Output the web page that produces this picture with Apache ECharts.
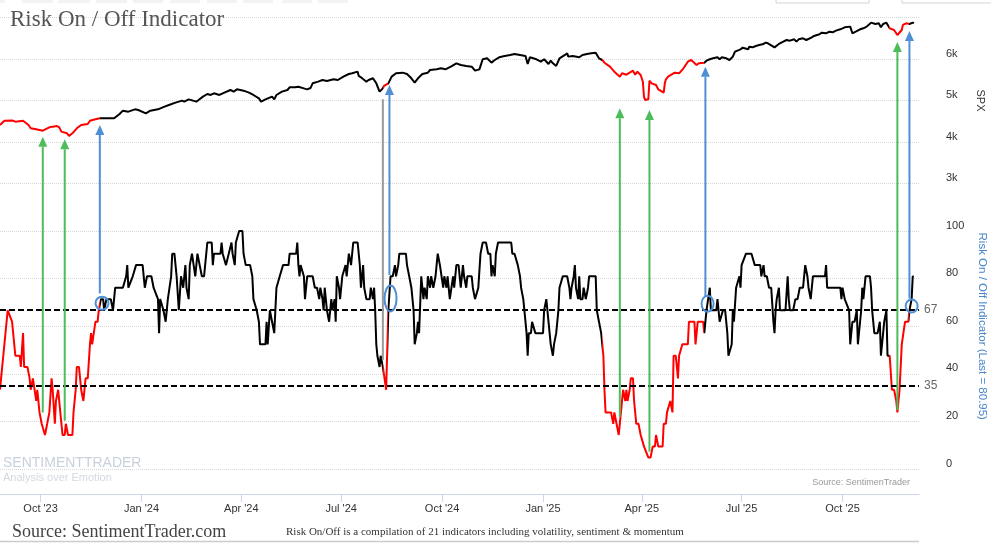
<!DOCTYPE html>
<html><head><meta charset="utf-8">
<script src="https://cdn.jsdelivr.net/npm/echarts@6/dist/echarts.min.js"></script>
<style>html,body{margin:0;padding:0;background:#fff}#c{width:991px;height:543px}</style>
</head><body><div id="c"></div>
<script>
// ---------------- DATA ----------------
const spxPoints = [
['2023-08-25',4410],['2023-08-29',4513],['2023-09-05',4518],['2023-09-08',4490],['2023-09-15',4513],['2023-09-20',4410],['2023-09-22',4330],['2023-09-27',4306],['2023-10-03',4273],['2023-10-09',4353],['2023-10-12',4370],['2023-10-16',4386],['2023-10-18',4353],['2023-10-20',4249],['2023-10-25',4209],['2023-10-27',4145],['2023-10-30',4209],['2023-11-03',4330],['2023-11-07',4410],['2023-11-13',4434],['2023-11-15',4513],['2023-11-20',4546],['2023-11-24',4571],['2023-11-30',4571],['2023-12-07',4571],['2023-12-12',4675],['2023-12-15',4755],['2023-12-20',4731],['2023-12-26',4787],['2023-12-29',4771],
['2024-01-05',4691],['2024-01-09',4755],['2024-01-16',4787],['2024-01-22',4851],['2024-01-26',4892],['2024-02-01',4948],['2024-02-07',4996],['2024-02-09',4972],['2024-02-13',5028],['2024-02-20',4972],['2024-02-22',5012],['2024-02-26',5093],['2024-03-01',5157],['2024-03-04',5133],['2024-03-07',5173],['2024-03-12',5133],['2024-03-15',5173],['2024-03-22',5253],['2024-03-25',5213],['2024-03-28',5269],['2024-04-03',5237],['2024-04-08',5189],['2024-04-12',5133],['2024-04-17',5052],['2024-04-19',4972],['2024-04-23',5028],['2024-04-29',5093],['2024-05-01',5028],['2024-05-03',5133],['2024-05-08',5213],['2024-05-13',5253],['2024-05-15',5318],['2024-05-20',5318],['2024-05-23',5333],['2024-05-28',5293],['2024-05-31',5269],['2024-06-03',5300],['2024-06-05',5414],['2024-06-10',5454],['2024-06-14',5494],['2024-06-18',5470],['2024-06-24',5510],['2024-06-28',5494],['2024-07-03',5575],['2024-07-08',5639],['2024-07-11',5655],['2024-07-16',5695],['2024-07-17',5591],['2024-07-19',5559],['2024-07-24',5454],['2024-07-26',5494],['2024-07-30',5535],['2024-08-02',5414],['2024-08-05',5213],['2024-08-08',5293],['2024-08-09',5350],['2024-08-13',5414],['2024-08-16',5575],['2024-08-20',5655],['2024-08-26',5671],['2024-08-30',5639],['2024-09-03',5535],['2024-09-06',5430],['2024-09-09',5535],['2024-09-13',5639],['2024-09-18',5671],['2024-09-20',5735],['2024-09-26',5751],['2024-09-30',5776],['2024-10-04',5751],['2024-10-09',5816],['2024-10-14',5896],['2024-10-18',5856],['2024-10-23',5832],['2024-10-28',5816],['2024-10-31',5719],['2024-11-04',5751],['2024-11-07',5993],['2024-11-11',6017],['2024-11-15',5912],['2024-11-18',5976],['2024-11-22',6041],['2024-11-27',6073],['2024-12-02',6097],['2024-12-06',6121],['2024-12-11',6097],['2024-12-16',6073],['2024-12-18',5880],['2024-12-20',6041],['2024-12-26',5993],['2024-12-30',5936],
['2025-01-02',5993],['2025-01-06',5880],['2025-01-08',5960],['2025-01-10',5896],['2025-01-13',5832],['2025-01-16',6017],['2025-01-21',6097],['2025-01-23',6137],['2025-01-24',6057],['2025-01-28',6073],['2025-02-03',6041],['2025-02-06',6097],['2025-02-10',6121],['2025-02-14',6137],['2025-02-18',6153],['2025-02-21',6017],['2025-02-24',5976],['2025-02-26',5911],['2025-03-03',5815],['2025-03-07',5694],['2025-03-12',5574],['2025-03-14',5655],['2025-03-18',5622],['2025-03-24',5718],['2025-03-26',5622],['2025-03-28',5694],['2025-03-31',5615],['2025-04-02',5453],['2025-04-03',5092],['2025-04-04',5012],['2025-04-07',5030],['2025-04-08',5477],['2025-04-10',5413],['2025-04-14',5374],['2025-04-16',5270],['2025-04-21',5188],['2025-04-22',5413],['2025-04-23',5510],['2025-04-25',5574],['2025-05-01',5670],['2025-05-05',5655],['2025-05-09',5776],['2025-05-13',5935],['2025-05-16',5976],['2025-05-21',5856],['2025-05-23',5896],['2025-05-28',5911],['2025-05-30',5960],['2025-06-02',5993],['2025-06-05',6017],['2025-06-09',6041],['2025-06-11',5993],['2025-06-13',6041],['2025-06-17',6017],['2025-06-20',5976],['2025-06-23',6057],['2025-06-25',6177],['2025-06-30',6233],['2025-07-02',6273],['2025-07-07',6233],['2025-07-08',6297],['2025-07-11',6281],['2025-07-14',6314],['2025-07-17',6338],['2025-07-21',6362],['2025-07-23',6394],['2025-07-25',6378],['2025-07-31',6281],['2025-08-04',6362],['2025-08-05',6378],['2025-08-08',6418],['2025-08-11',6458],['2025-08-14',6442],['2025-08-18',6474],['2025-08-20',6418],['2025-08-22',6474],['2025-08-26',6498],['2025-08-29',6458],['2025-09-03',6522],['2025-09-05',6555],['2025-09-10',6595],['2025-09-12',6635],['2025-09-16',6619],['2025-09-19',6659],['2025-09-22',6643],['2025-09-25',6683],['2025-09-29',6715],['2025-10-01',6739],['2025-10-03',6764],['2025-10-08',6780],['2025-10-10',6619],['2025-10-13',6659],['2025-10-14',6683],['2025-10-17',6715],['2025-10-20',6739],['2025-10-23',6780],['2025-10-27',6876],['2025-10-28',6900],['2025-10-31',6844],['2025-11-03',6860],['2025-11-05',6764],['2025-11-07',6844],['2025-11-10',6876],['2025-11-13',6739],['2025-11-17',6699],['2025-11-20',6579],['2025-11-24',6699],['2025-11-25',6820],['2025-11-28',6860],['2025-12-01',6844],['2025-12-04',6876],['2025-12-05',6860]
];

const riskPoints = [
['2023-08-25',33.3],['2023-08-27',42.9],['2023-08-28',47.6],['2023-09-01',66.7],['2023-09-05',61.9],['2023-09-06',61.9],['2023-09-08',47.6],['2023-09-12',47.6],['2023-09-13',42.9],['2023-09-15',57.1],['2023-09-16',42.9],['2023-09-19',42.9],['2023-09-21',38.1],['2023-09-22',33.3],['2023-09-24',38.1],['2023-09-25',38.1],['2023-09-27',28.6],['2023-09-28',33.3],['2023-09-30',23.8],['2023-10-02',19.0],['2023-10-03',19.0],['2023-10-05',14.3],['2023-10-07',19.0],['2023-10-09',23.8],['2023-10-11',38.1],['2023-10-12',33.3],['2023-10-14',19.0],['2023-10-15',28.6],['2023-10-17',33.3],['2023-10-20',19.0],['2023-10-21',14.3],['2023-10-23',14.3],['2023-10-24',19.0],['2023-10-26',14.3],['2023-10-30',14.3],['2023-10-31',23.8],['2023-11-02',33.3],['2023-11-03',42.9],['2023-11-05',42.9],['2023-11-07',33.3],['2023-11-09',28.6],['2023-11-11',38.1],['2023-11-13',38.1],['2023-11-15',52.4],['2023-11-16',57.1],['2023-11-17',52.4],['2023-11-20',61.9],['2023-11-22',61.9],['2023-11-23',66.7],['2023-11-25',71.4],['2023-11-27',71.4],['2023-11-28',66.7],['2023-11-30',71.4],['2023-12-04',71.4],['2023-12-06',66.7],['2023-12-08',76.2],['2023-12-15',76.2],['2023-12-18',81.0],['2023-12-19',85.7],['2023-12-20',76.2],['2023-12-24',81.0],['2023-12-27',85.7],
['2024-01-02',85.7],['2024-01-04',76.2],['2024-01-06',81.0],['2024-01-10',81.0],['2024-01-12',76.2],['2024-01-16',71.4],['2024-01-17',57.1],['2024-01-18',71.4],['2024-01-21',66.7],['2024-01-23',61.9],['2024-01-25',71.4],['2024-01-28',81.0],['2024-01-29',90.5],['2024-01-31',90.5],['2024-02-02',81.0],['2024-02-04',66.7],['2024-02-06',81.0],['2024-02-08',76.2],['2024-02-10',85.7],['2024-02-11',76.2],['2024-02-13',71.4],['2024-02-14',85.7],['2024-02-16',90.5],['2024-02-19',81.0],['2024-02-21',90.5],['2024-02-23',85.7],['2024-02-25',81.0],['2024-02-27',81.0],['2024-03-01',95.2],['2024-03-05',95.2],['2024-03-06',85.7],['2024-03-07',90.5],['2024-03-13',90.5],['2024-03-14',95.2],['2024-03-15',90.5],['2024-03-18',85.7],['2024-03-23',95.2],['2024-03-24',90.5],['2024-03-26',85.7],['2024-03-27',95.2],['2024-03-30',100],['2024-04-02',100],['2024-04-03',90.5],['2024-04-05',85.7],['2024-04-09',85.7],['2024-04-11',81.0],['2024-04-12',71.4],['2024-04-15',66.7],['2024-04-17',61.9],['2024-04-18',52.4],['2024-04-23',52.4],['2024-04-24',61.9],['2024-04-25',52.4],['2024-04-27',66.7],['2024-04-29',61.9],['2024-05-01',57.1],['2024-05-03',76.2],['2024-05-06',81.0],['2024-05-09',85.7],['2024-05-14',85.7],['2024-05-15',90.5],['2024-05-21',90.5],['2024-05-22',95.2],['2024-05-23',85.7],['2024-05-24',81.0],['2024-05-25',85.7],['2024-05-28',81.0],['2024-05-29',71.4],['2024-05-31',81.0],['2024-06-05',81.0],['2024-06-07',76.2],['2024-06-09',76.2],['2024-06-11',71.4],['2024-06-12',76.2],['2024-06-14',71.4],['2024-06-15',66.7],['2024-06-16',76.2],['2024-06-18',66.7],['2024-06-20',61.9],['2024-06-22',71.4],['2024-06-23',66.7],['2024-06-25',71.4],['2024-06-26',61.9],['2024-06-27',81.0],['2024-06-29',76.2],['2024-06-30',71.4],['2024-07-02',81.0],['2024-07-03',81.0],['2024-07-05',85.7],['2024-07-06',81.0],['2024-07-08',90.5],['2024-07-10',85.7],['2024-07-12',95.2],['2024-07-16',95.2],['2024-07-18',85.7],['2024-07-19',76.2],['2024-07-21',85.7],['2024-07-22',76.2],['2024-07-24',71.4],['2024-07-27',71.4],['2024-07-28',76.2],['2024-07-30',71.4],['2024-07-31',76.2],['2024-08-01',66.7],['2024-08-02',52.4],['2024-08-03',47.6],['2024-08-05',42.9],['2024-08-06',47.6],['2024-08-08',42.9],['2024-08-11',33.3],['2024-08-13',66.7],['2024-08-15',81.0],['2024-08-17',81.0],['2024-08-19',85.7],['2024-08-20',81.0],['2024-08-22',85.7],['2024-08-23',90.5],['2024-08-29',90.5],['2024-08-30',85.7],['2024-09-01',81.0],['2024-09-03',76.2],['2024-09-05',66.7],['2024-09-06',52.4],['2024-09-08',57.1],['2024-09-09',61.9],['2024-09-10',57.1],['2024-09-12',81.0],['2024-09-14',71.4],['2024-09-15',76.2],['2024-09-17',71.4],['2024-09-18',81.0],['2024-09-20',76.2],['2024-09-21',81.0],['2024-09-23',76.2],['2024-09-25',81.0],['2024-09-27',90.5],['2024-09-29',85.7],['2024-09-30',85.7],['2024-10-02',76.2],['2024-10-03',81.0],['2024-10-05',76.2],['2024-10-06',81.0],['2024-10-08',71.4],['2024-10-09',71.4],['2024-10-11',81.0],['2024-10-12',76.2],['2024-10-14',85.7],['2024-10-16',85.7],['2024-10-18',76.2],['2024-10-20',85.7],['2024-10-21',81.0],['2024-10-23',76.2],['2024-10-24',81.0],['2024-10-28',81.0],['2024-10-29',76.2],['2024-10-31',71.4],['2024-11-03',76.2],['2024-11-05',90.5],['2024-11-07',95.2],['2024-11-10',95.2],['2024-11-12',90.5],['2024-11-14',90.5],['2024-11-15',81.0],['2024-11-16',85.7],['2024-11-18',81.0],['2024-11-19',90.5],['2024-11-21',95.2],['2024-12-03',95.2],['2024-12-04',90.5],['2024-12-06',90.5],['2024-12-09',85.7],['2024-12-11',81.0],['2024-12-12',76.2],['2024-12-14',71.4],['2024-12-15',66.7],['2024-12-17',57.1],['2024-12-18',47.6],['2024-12-19',57.1],['2024-12-21',57.1],['2024-12-22',61.9],['2024-12-25',57.1],
['2025-01-01',57.1],['2025-01-02',66.7],['2025-01-04',71.4],['2025-01-05',71.4],['2025-01-07',57.1],['2025-01-08',52.4],['2025-01-10',47.6],['2025-01-11',52.4],['2025-01-13',57.1],['2025-01-15',66.7],['2025-01-16',76.2],['2025-01-19',81.0],['2025-01-23',81.0],['2025-01-25',76.2],['2025-01-26',71.4],['2025-01-27',76.2],['2025-01-29',81.0],['2025-01-30',85.7],['2025-01-31',76.2],['2025-02-02',71.4],['2025-02-03',81.0],['2025-02-04',71.4],['2025-02-06',71.4],['2025-02-07',76.2],['2025-02-09',71.4],['2025-02-11',76.2],['2025-02-12',81.0],['2025-02-18',81.0],['2025-02-19',66.7],['2025-02-21',61.9],['2025-02-23',57.1],['2025-02-25',47.6],['2025-02-26',33.3],['2025-02-27',23.8],['2025-03-04',23.8],['2025-03-06',19.0],['2025-03-07',23.8],['2025-03-09',19.0],['2025-03-11',14.3],['2025-03-12',19.0],['2025-03-14',28.6],['2025-03-15',33.3],['2025-03-17',28.6],['2025-03-18',33.3],['2025-03-19',28.6],['2025-03-21',33.3],['2025-03-22',38.1],['2025-03-24',38.1],['2025-03-25',28.6],['2025-03-27',19.0],['2025-03-29',19.0],['2025-03-31',14.3],['2025-04-01',14.3],['2025-04-03',9.5],['2025-04-04',9.5],['2025-04-07',4.8],['2025-04-09',4.8],['2025-04-11',9.5],['2025-04-13',9.5],['2025-04-14',14.3],['2025-04-16',9.5],['2025-04-20',9.5],['2025-04-21',19.0],['2025-04-23',19.0],['2025-04-24',23.8],['2025-04-27',28.6],['2025-04-29',23.8],['2025-04-30',47.6],['2025-05-02',47.6],['2025-05-04',38.1],['2025-05-05',47.6],['2025-05-08',52.4],['2025-05-13',52.4],['2025-05-14',61.9],['2025-05-19',61.9],['2025-05-20',52.4],['2025-05-22',61.9],['2025-05-27',61.9],['2025-05-28',57.1],['2025-05-30',66.7],['2025-05-31',66.7],['2025-06-02',76.2],['2025-06-03',66.7],['2025-06-08',66.7],['2025-06-09',71.4],['2025-06-11',61.9],['2025-06-12',61.9],['2025-06-14',66.7],['2025-06-16',66.7],['2025-06-18',57.1],['2025-06-19',47.6],['2025-06-22',52.4],['2025-06-23',66.7],['2025-06-24',61.9],['2025-06-26',76.2],['2025-06-27',76.2],['2025-06-29',81.0],['2025-06-30',76.2],['2025-07-01',85.7],['2025-07-02',85.7],['2025-07-05',90.5],['2025-07-10',90.5],['2025-07-13',85.7],['2025-07-18',85.7],['2025-07-19',81.0],['2025-07-21',85.7],['2025-07-22',81.0],['2025-07-24',81.0],['2025-07-26',76.2],['2025-07-28',76.2],['2025-07-30',61.9],['2025-07-31',57.1],['2025-08-01',66.7],['2025-08-02',71.4],['2025-08-04',76.2],['2025-08-05',66.7],['2025-08-10',66.7],['2025-08-12',81.0],['2025-08-13',71.4],['2025-08-14',66.7],['2025-08-17',66.7],['2025-08-19',71.4],['2025-08-21',71.4],['2025-08-23',76.2],['2025-08-26',76.2],['2025-08-28',85.7],['2025-08-30',81.0],['2025-08-31',76.2],['2025-09-02',71.4],['2025-09-04',81.0],['2025-09-15',81.0],['2025-09-16',85.7],['2025-09-17',76.2],['2025-09-29',76.2],['2025-09-30',71.4],['2025-10-01',76.2],['2025-10-03',71.4],['2025-10-04',71.4],['2025-10-07',66.7],['2025-10-08',52.4],['2025-10-10',61.9],['2025-10-12',61.9],['2025-10-14',66.7],['2025-10-15',52.4],['2025-10-17',61.9],['2025-10-18',66.7],['2025-10-19',76.2],['2025-10-20',71.4],['2025-10-22',81.0],['2025-10-26',81.0],['2025-10-27',76.2],['2025-10-28',66.7],['2025-10-30',57.1],['2025-11-02',57.1],['2025-11-04',61.9],['2025-11-05',47.6],['2025-11-07',57.1],['2025-11-08',61.9],['2025-11-10',66.7],['2025-11-11',47.6],['2025-11-13',47.6],['2025-11-15',33.3],['2025-11-17',33.3],['2025-11-19',28.6],['2025-11-20',23.8],['2025-11-21',28.6],['2025-11-22',33.3],['2025-11-23',42.9],['2025-11-24',52.4],['2025-11-25',52.4],['2025-11-27',61.9],['2025-11-30',61.9],['2025-12-01',66.7],['2025-12-03',71.4],['2025-12-04',80.95],['2025-12-05',80.95]
];

// Risk-off regimes (drawn in red on both lines)
const redZones = [['2023-08-01','2023-11-24'],['2024-08-08','2024-08-13'],['2025-02-24','2025-05-28'],['2025-11-12','2025-12-01']];
// Threshold levels
const thresholds = [67, 35];
// Signals: date, indicator value at the foot, SPX value at the tip, kind
const signalDates = ['2023-10-03','2023-10-23','2023-11-24','2024-08-08','2024-08-14','2025-03-12','2025-04-08','2025-05-29','2025-11-20','2025-12-01'];
const signalFrom  = [23.8, 20.3, 73.8, 45.8, 81.5, 22.0, 7.3, 72.7, 24.8, 71.7];
const signalTo    = [4128, 4065, 4410, 5029, 5374, 4812, 4771, 5815, 6410, 6675];
const signalKinds = ['buy','buy','on','off','on','buy','buy','on','buy','on'];
// Crossing markers
const crossDates  = ['2023-11-26','2024-08-15','2025-05-31','2025-12-03'];
const crossValues = [69.7, 71.7, 69.5, 68.5];
// x-axis ticks
const tickDates  = ['2023-10-01','2024-01-01','2024-04-01','2024-07-01','2024-10-01','2025-01-01','2025-04-01','2025-07-01','2025-10-01'];
const tickLabels = ["Oct '23","Jan '24","Apr '24","Jul '24","Oct '24","Jan '25","Apr '25","Jul '25","Oct '25"];

// ---------------- STYLE ----------------
const kindStyle = {
  buy: {color:'#4dbd5b', head:true},
  on:  {color:'#4e8fd6', head:true},
  off: {color:'#9a9a9a', head:false}
};
const crossRadii = [[6.5,6.5],[6,13],[6,8],[6,6.5]];
const SANS = '"Liberation Sans", Arial, sans-serif';
const SERIF = '"Liberation Serif", "Times New Roman", serif';

function ms(s){ const p = s.split('-').map(Number); return Date.UTC(p[0], p[1]-1, p[2]); }
const DAY = 86400000;
const xMin = ms('2023-08-25');
const xMax = ms('2025-12-09') + 17*3600000;
const tickMs = tickDates.map(ms);

const chart = echarts.init(document.getElementById('c'), null, {renderer:'canvas'});

function renderArrow(params, api){
  const t = api.value(0);
  const p0 = api.coord([t, api.value(1)]);
  let p1 = null;
  try { p1 = chart.convertToPixel({xAxisIndex:0, yAxisIndex:0}, [t, api.value(2)]); } catch(e) { p1 = null; }
  const st = kindStyle[signalKinds[params.dataIndex]];
  const x = p0[0];
  const tipY = p1 ? p1[1] : p0[1] - 200;
  const headLen = st.head ? 10 : 0;
  const children = [{
    type:'line', shape:{x1:x, y1:p0[1], x2:x, y2:tipY + headLen},
    style:{stroke:st.color, lineWidth:2}
  }];
  if (st.head) {
    children.push({type:'polygon', shape:{points:[[x-4.5, tipY+headLen],[x+4.5, tipY+headLen],[x, tipY]]}, style:{fill:st.color}});
  }
  return {type:'group', children};
}
function renderCross(params, api){
  const p = api.coord([api.value(0), api.value(1)]);
  const r = crossRadii[params.dataIndex];
  return {type:'ellipse', shape:{cx:p[0], cy:p[1], rx:r[0], ry:r[1]}, style:{fill:'none', stroke:'#4e8fd6', lineWidth:2}};
}

const topBoxes = [[0,5],[22,31],[58,32],[96,31],[133,30],[170,30],[207,30],[243,30],[282,30],[318,30]];
const graphics = [];
topBoxes.forEach(b => graphics.push({type:'rect', shape:{x:b[0], y:0, width:b[1], height:3}, style:{fill:'#f3f3f3'}, silent:true}));
graphics.push({type:'rect', shape:{x:776, y:-1, width:93, height:4}, style:{fill:'#fff', stroke:'#d5d5d5', lineWidth:1}, silent:true});
graphics.push({type:'rect', shape:{x:902, y:-1, width:92, height:4}, style:{fill:'#fff', stroke:'#d5d5d5', lineWidth:1}, silent:true});
graphics.push({type:'text', x:3, y:456, silent:true, style:{text:'SENTIMENTTRADER', font:'14px ' + SANS, fill:'#c8d1db'}});
graphics.push({type:'text', x:3, y:472, silent:true, style:{text:'Analysis over Emotion', font:'11px ' + SANS, fill:'#d3d9e0'}});
graphics.push({type:'text', x:910, y:478, silent:true, style:{text:'Source: SentimenTrader', font:'9px ' + SANS, fill:'#999999', align:'right'}});
graphics.push({type:'text', x:12, y:523, silent:true, style:{text:'Source: SentimentTrader.com', font:'18px ' + SERIF, fill:'#444444'}});
graphics.push({type:'text', x:286, y:527, silent:true, style:{text:'Risk On/Off is a compilation of 21 indicators including volatility, sentiment & momentum', font:'11px ' + SERIF, fill:'#333333'}});
graphics.push({type:'line', shape:{x1:0, y1:541.5, x2:919, y2:541.5}, style:{stroke:'#cccccc', lineWidth:1.5}, silent:true});

const option = {
  animation:false,
  backgroundColor:'#ffffff',
  title:{text:'Risk On / Off Indicator', left:5, top:3, textStyle:{fontFamily:SERIF, fontSize:23, fontWeight:'normal', color:'#555555'}},
  grid:[
    {left:0, right:72, top:17.5, height:166, outerBoundsMode:'none', containLabel:false},
    {left:0, right:72, top:183.5, height:285.5, outerBoundsMode:'none', containLabel:false}
  ],
  xAxis:[
    {type:'value', gridIndex:0, min:xMin, max:xMax, show:false, splitLine:{show:false}},
    {type:'value', gridIndex:1, min:xMin, max:xMax, offset:25, scale:true,
     axisLine:{show:true, onZero:false, lineStyle:{color:'#ccd6eb', width:1}},
     axisTick:{show:true, length:8, lineStyle:{color:'#ccd6eb'}, customValues:tickMs},
     axisLabel:{show:true, color:'#333333', fontSize:11, fontFamily:SANS, margin:9, customValues:tickMs,
       formatter:(v)=>{ for (let i=0;i<tickMs.length;i++){ if (Math.abs(tickMs[i]-v) < DAY) return tickLabels[i]; } return ''; }},
     splitLine:{show:false}}
  ],
  yAxis:[
    {type:'value', gridIndex:0, position:'right', min:3000, max:7000, interval:1000,
     axisLine:{show:false}, axisTick:{show:false},
     axisLabel:{color:'#333333', fontSize:11, fontFamily:SANS, margin:27, align:'left', verticalAlign:'bottom',
       formatter:(v)=> v >= 7000 ? '' : (v/1000) + 'k'},
     splitLine:{show:true, lineStyle:{color:'#d6d6d6', type:'dotted', width:1}},
     name:'SPX', nameLocation:'middle', nameRotate:-90, nameGap:56, nameMoveOverlap:false,
     nameTextStyle:{color:'#333333', fontSize:11, fontFamily:SANS}},
    {type:'value', gridIndex:1, position:'right', min:0, max:120, interval:20,
     axisLine:{show:false}, axisTick:{show:false},
     axisLabel:{color:'#333333', fontSize:11, fontFamily:SANS, margin:27, align:'left', verticalAlign:'bottom',
       formatter:(v)=> v > 100 ? '' : String(v)},
     splitLine:{show:true, lineStyle:{color:'#d6d6d6', type:'dotted', width:1}},
     name:'Risk On / Off Indicator (Last = 80.95)', nameLocation:'middle', nameRotate:-90, nameGap:57, nameMoveOverlap:false,
     nameTextStyle:{color:'#4a86c8', fontSize:11.5, fontFamily:SANS}}
  ],
  visualMap:[{
    type:'piecewise', show:false, dimension:0, seriesIndex:[0,1],
    pieces: redZones.map(z => ({gte:ms(z[0]), lte:ms(z[1]), color:'#ff0000'})),
    outOfRange:{color:'#000000'}
  }],
  series:[
    {name:'SPX', type:'line', xAxisIndex:0, yAxisIndex:0, showSymbol:false, symbol:'none',
     data: spxPoints.map(p => [ms(p[0]), p[1]]), lineStyle:{width:2}, z:2},
    {name:'Risk On/Off', type:'line', xAxisIndex:1, yAxisIndex:1, showSymbol:false, symbol:'none',
     data: riskPoints.map(p => [ms(p[0]), p[1]]), lineStyle:{width:2}, z:3,
     markLine:{symbol:'none', silent:true, animation:false,
       lineStyle:{color:'#000000', type:[6,3], width:2},
       label:{show:true, position:'end', distance:5, color:'#666666', fontSize:12, fontFamily:SANS, formatter:(p)=>String(p.value)},
       data: thresholds.map(v => ({yAxis:v}))}},
    {name:'signals', type:'custom', xAxisIndex:1, yAxisIndex:1, clip:false, z:5, silent:true,
     renderItem: renderArrow,
     data: signalDates.map((d,i) => [ms(d), signalFrom[i], signalTo[i]])},
    {name:'crossings', type:'custom', xAxisIndex:1, yAxisIndex:1, clip:false, z:6, silent:true,
     renderItem: renderCross,
     data: crossDates.map((d,i) => [ms(d), crossValues[i]])}
  ],
  graphic: graphics
};
chart.setOption(option);
</script>
</body></html>
